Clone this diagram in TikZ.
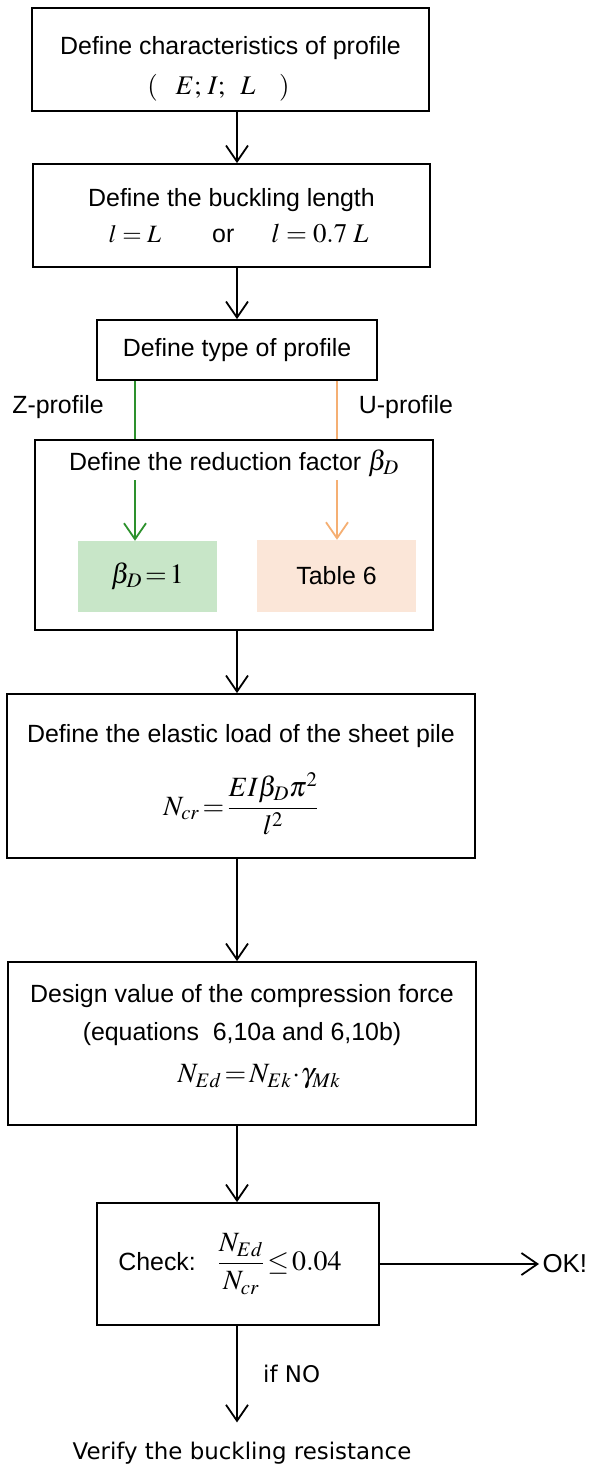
\documentclass[tikz,border=0pt]{standalone}
\usepackage{mathptmx}
\usepackage[no-math]{fontspec}
\setmainfont{Liberation Sans}
\newfontfamily\plainfont{DejaVu Sans}
\usetikzlibrary{arrows.meta}

\definecolor{zgreen}{RGB}{45,145,45}
\definecolor{uorange}{RGB}{245,175,115}
\definecolor{zfill}{RGB}{200,230,200}
\definecolor{ufill}{RGB}{251,230,216}

\newcommand{\bigmath}[1]{{\fontsize{28}{32}\selectfont$#1$}}

\begin{document}
\begin{tikzpicture}[x=1bp, y=-1bp, font=\fontsize{25}{30}\selectfont,
    box/.style={draw, line width=1.8bp, align=center, inner sep=0pt},
    arr/.style={-{Straight Barb[length=16bp, width=22bp]}, line width=1.8bp},
    side/.style={font=\plainfont\fontsize{23}{27}\selectfont}]
        \useasboundingbox (0,0) rectangle (593,1467);
        \coordinate (axis) at (237,0);
        \coordinate (zline) at (135,0);
        \coordinate (uline) at (337,0);

        % Profile data and buckling length
        \node[box, minimum width=397bp, minimum height=103bp] (charbox) at (230.5,59.5)
            {\rule{0pt}{36bp}Define characteristics of profile\\[10bp]
             {\fontsize{27}{30}\selectfont$(\;\;\;E;\,I;\;\;L\;\;\;\;)$}\hspace*{24bp}};
        \node[box, minimum width=397bp, minimum height=103bp] (buckbox) at (231.5,215.5)
            {Define the buckling length\\[6bp]
             \hspace*{14bp}$l=L$\hspace{51bp}or\hspace{37bp}{\fontsize{27}{30}\selectfont$l=0.7\;L$}};
        \node[box, minimum width=280bp, minimum height=60bp] (typebox) at (237,350)
            {Define type of profile};

        % Reduction factor, two branches
        \node (zlabel) at (58,407) {Z-profile};
        \node (ulabel) at (406,407) {U-profile};
        \node[box, minimum width=398bp, minimum height=190bp] (redbox) at (234,535) {};
        \node (redtitle) at (234,463) {Define the reduction factor \bigmath{\beta_D}};
        \node[fill=zfill, minimum width=139bp, minimum height=71bp] (zval) at (147.5,576.5)
            {\bigmath{\beta_D\!=\!1}};
        \node[fill=ufill, minimum width=159bp, minimum height=72bp] (uval) at (336.5,576)
            {Table 6};

        % Elastic load and design force
        \node[box, minimum width=468bp, minimum height=164bp] (elastic) at (241,776)
            {\rule{0pt}{25bp}Define the elastic load of the sheet pile\\[24bp]
             \bigmath{\displaystyle N_{cr}\!=\!\frac{EI\beta_D\pi^2}{l^2}}};
        \node[box, minimum width=468bp, minimum height=163bp] (design) at (242,1043.5)
            {Design value of the compression force\\[8bp]
             (equations \ 6,10a and 6,10b)\\[12bp]
             \hspace*{34bp}\bigmath{N_{Ed}\!=\!N_{Ek}\!\cdot\!\gamma_{Mk}}\rule[-20bp]{0pt}{1bp}};

        % Check
        \node[box, minimum width=282bp, minimum height=122bp] (check) at (238,1264)
            {Check:\hspace{22bp}\bigmath{\displaystyle\frac{N_{Ed}}{N_{cr}}\!\le\!0.04}\hspace*{16bp}};
        \node[anchor=west, font=\fontsize{26}{30}\selectfont] (ok) at (539,1264) {OK!};
        \node[side] (verify) at (242,1453) {Verify the buckling resistance};

        % Connectors
        \draw[arr] (charbox.south -| axis) -- (buckbox.north -| axis);
        \draw[arr] (buckbox.south -| axis) -- (typebox.north -| axis);
        \draw[zgreen, line width=1.8bp] (typebox.south -| zline) -- (redbox.north -| zline);
        \draw[uorange, line width=1.8bp] (typebox.south -| uline) -- (redbox.north -| uline);
        \draw[arr, zgreen] (redtitle.south -| zline) -- (zval.north -| zline);
        \draw[arr, uorange] (redtitle.south -| uline) -- (uval.north -| uline);
        \draw[arr] (redbox.south -| axis) -- (elastic.north -| axis);
        \draw[arr] (elastic.south -| axis) -- (design.north -| axis);
        \draw[arr] (design.south -| axis) -- (check.north -| axis);
        \draw[arr] (check.east) -- (ok.west);
        \draw[arr] (check.south -| axis) -- ([yshift=16bp]verify.north -| axis)
            node[midway, right=22bp, side] (ifno) {if NO};

    \end{tikzpicture}
\end{document}
